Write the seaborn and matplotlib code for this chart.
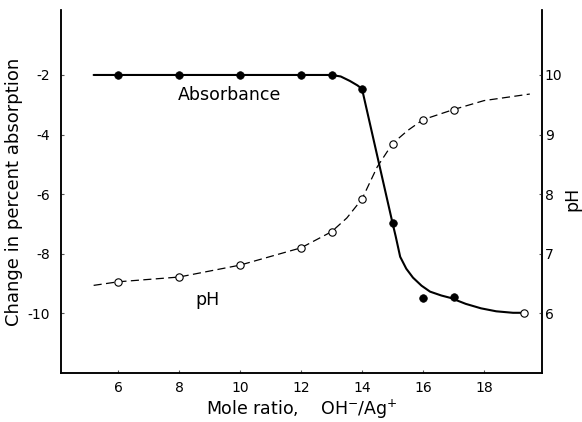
import matplotlib
matplotlib.use("Agg")
import matplotlib.pyplot as plt
import seaborn as sns

# ---- data ----
abs_x = [6, 8, 10, 12, 13, 14, 15, 16, 17]
abs_y = [-2.0, -2.0, -2.0, -2.0, -2.0, -2.47, -6.97, -9.5, -9.45]
abs_end_x = [19.3]
abs_end_y = [-10.0]
abs_curve_x = [5.2, 13, 13.3, 13.6, 13.85, 14, 15, 15.1, 15.25, 15.45, 15.67,
               15.95, 16.23, 16.6, 16.9, 17.4, 17.9, 18.4, 18.95, 19.3]
abs_curve_y = [-2.0, -2.0, -2.05, -2.2, -2.35, -2.47, -6.97, -7.4, -8.1, -8.5,
               -8.8, -9.07, -9.27, -9.4, -9.48, -9.68, -9.83, -9.93, -9.98, -9.98]

ph_x = [6, 8, 10, 12, 13, 14, 15, 16, 17]
ph_y = [6.53, 6.61, 6.81, 7.10, 7.37, 7.92, 8.85, 9.25, 9.42]
ph_curve_x = [5.2, 6, 8, 10, 12, 13, 13.5, 14, 14.5, 15, 15.5, 16, 17, 18, 19.5]
ph_curve_y = [6.47, 6.53, 6.61, 6.81, 7.10, 7.37, 7.6, 7.92, 8.46, 8.85, 9.07,
              9.25, 9.42, 9.57, 9.68]

x_ticks = [6, 8, 10, 12, 14, 16, 18]
left_ticks = [-2, -4, -6, -8, -10]
right_ticks = [6, 7, 8, 9, 10]

sns.set_style("white")
plt.rcParams["font.family"] = ["DejaVu Sans"]
plt.rcParams["axes.unicode_minus"] = False
plt.rcParams["text.color"] = "black"
plt.rcParams["axes.labelcolor"] = "black"
plt.rcParams["xtick.labelcolor"] = "black"
plt.rcParams["ytick.labelcolor"] = "black"

fig = plt.figure(figsize=(5.82, 4.22), dpi=100)
ax = fig.add_axes([61 / 582, 1 - 373 / 422, 481 / 582, 363 / 422])
ax2 = ax.twinx()

# Absorbance
sns.lineplot(x=abs_curve_x, y=abs_curve_y, ax=ax, color="black", linewidth=1.5,
             sort=False, estimator=None)
sns.scatterplot(x=abs_x, y=abs_y, ax=ax, color="black", s=30, edgecolor="black",
                linewidth=0.5, zorder=5)
sns.scatterplot(x=abs_end_x, y=abs_end_y, ax=ax, facecolor="white",
                edgecolor="black", s=28, linewidth=0.8, zorder=5)

# pH
sns.lineplot(x=ph_curve_x, y=ph_curve_y, ax=ax2, color="black", linewidth=0.9,
             linestyle=(0, (6.5, 3.5)), sort=False, estimator=None)
sns.scatterplot(x=ph_x, y=ph_y, ax=ax2, facecolor="white", edgecolor="black",
                s=28, linewidth=0.8, zorder=5)

ax.set_xlim(4.13, 19.9)
ax.set_ylim(-12.0, 0.18)
ax2.set_ylim(5.0, 11.09)

ax.set_xticks(x_ticks)
ax.set_xticklabels([str(t) for t in x_ticks])
ax.set_yticks(left_ticks)
ax.set_yticklabels([str(t) for t in left_ticks])
ax2.set_yticks(right_ticks)
ax2.set_yticklabels([str(t) for t in right_ticks])

for a in (ax, ax2):
    for side in ("left", "right", "bottom"):
        a.spines[side].set_visible(True)
        a.spines[side].set_color("black")
        a.spines[side].set_linewidth(1.1)
    a.spines["top"].set_visible(False)

ax.tick_params(axis="x", direction="in", length=2.5, width=0.8, color="#555555",
               labelcolor="black", labelsize=10, pad=6, bottom=True)
ax.tick_params(axis="y", direction="in", length=2.5, width=0.8, color="#555555",
               labelcolor="black", labelsize=10, pad=8, left=True)
ax2.tick_params(axis="y", direction="in", length=2.5, width=0.8, color="#555555",
                labelcolor="black", labelsize=10, pad=2, right=True)

ax.set_xlabel("Mole ratio,    OH$^{-}$/Ag$^{+}$", fontsize=12.5, color="black")
ax.xaxis.set_label_coords(0.5, -0.068)
ax.set_ylabel("Change in percent absorption", fontsize=13, color="black")
ax.yaxis.set_label_coords(-0.078, 0.5)
ax2.set_ylabel("pH", fontsize=12.5, rotation=90, color="black")
ax2.yaxis.set_label_coords(1.045, 0.48)

ax.text(9.67, -2.67, "Absorbance", fontsize=12.5, ha="center", va="center",
        color="black")
ax.text(8.92, -9.56, "pH", fontsize=12.5, ha="center", va="center",
        color="black")

ax.grid(False)
ax2.grid(False)

fig.savefig("out.png", dpi=100)
